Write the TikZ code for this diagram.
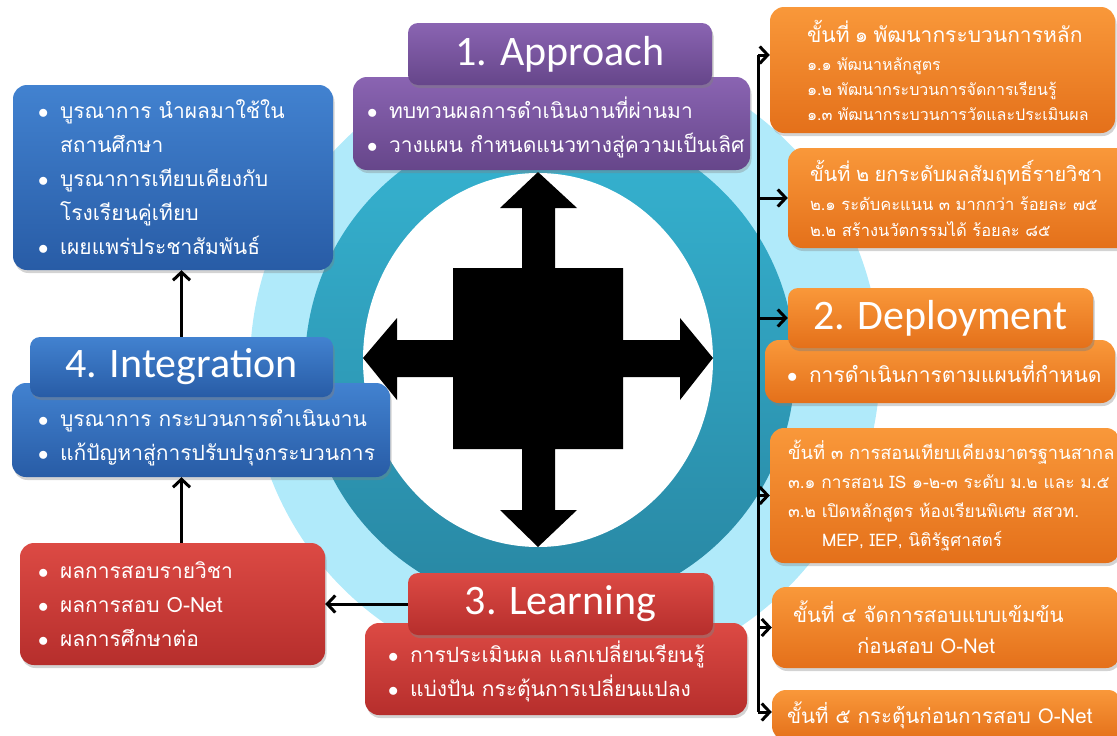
\documentclass[tikz,border=0pt]{standalone}
\usepackage{fontspec}
\setmainfont{Loma}[Script=Thai]
\newfontfamily\titlefont{Carlito}
\usepackage{tikz}
\usetikzlibrary{arrows.meta,positioning,shadows}
\definecolor{lblue}{RGB}{176,234,250}
\definecolor{tealtop}{RGB}{54,180,210}
\definecolor{tealbot}{RGB}{40,134,162}
\definecolor{pptop}{RGB}{138,100,178}
\definecolor{ppbot}{RGB}{102,70,138}
\definecolor{bltop}{RGB}{66,130,208}
\definecolor{blbot}{RGB}{40,92,166}
\definecolor{rdtop}{RGB}{220,74,68}
\definecolor{rdbot}{RGB}{182,46,44}
\definecolor{ogtop}{RGB}{249,152,58}
\definecolor{ogbot}{RGB}{228,112,26}
\newcommand{\bul}{\makebox[22pt][l]{$\bullet$}}
\newcommand{\nob}{\hspace*{22pt}}
\tikzstyle{bx} = [rectangle, rounded corners=14pt, text=white, align=left, inner ysep=0pt, execute at begin node={\rightskip=-300pt plus 1fil}, drop shadow={opacity=0.35,shadow xshift=1.5pt,shadow yshift=-3pt}]
\tikzstyle{ttl} = [rectangle, rounded corners=10pt, text=white, inner sep=0pt, font=\titlefont\fontsize{42}{42}\selectfont, drop shadow={opacity=0.45,shadow xshift=1.5pt,shadow yshift=-3pt}]
\tikzstyle{pp} = [top color=pptop, bottom color=ppbot]
\tikzstyle{bl} = [top color=bltop, bottom color=blbot]
\tikzstyle{rd} = [top color=rdtop, bottom color=rdbot]
\tikzstyle{og} = [top color=ogtop, bottom color=ogbot]
\tikzstyle{bt} = [font=\fontsize{21}{34}\selectfont]
\tikzstyle{arr} = [-{Straight Barb[length=8pt,width=17pt]}, line width=3pt]
\begin{document}
\begin{tikzpicture}[x=1pt,y=-1pt]
\useasboundingbox (0,0) rectangle (1117,736);
\fill[lblue] (565,365) circle [radius=315];
\path[top color=tealtop, bottom color=tealbot] (550,365) circle [radius=245];
\fill[white] (538,360) ellipse [x radius=175, y radius=187];
\fill[black] (538,172) -- (577,208) -- (555,208) -- (555,268) -- (623,268) -- (623,340) -- (680,340) -- (680,318)
  -- (713,358) -- (680,400) -- (680,377) -- (623,377) -- (623,449) -- (555,449) -- (555,510) -- (577,510)
  -- (538,547) -- (500,510) -- (522,510) -- (522,449) -- (453,449) -- (453,377) -- (397,377) -- (397,400)
  -- (363,358) -- (397,318) -- (397,340) -- (453,340) -- (453,268) -- (522,268) -- (522,208) -- (500,208) -- cycle;

\node[bx, pp, bt, minimum height=93pt, text width=369pt, inner xsep=14pt] (appc) at (551.5,123.5)
  {\rule{0pt}{30pt}\bul ทบทวนผลการดำเนินงานที่ผ่านมา\\ \bul วางแผน กำหนดแนวทางสู่ความเป็นเลิศ};
\node[ttl, pp, minimum width=304pt, minimum height=62pt] (appt) at (560,54) {1. Approach};

\node[bx, bl, bt, minimum height=185pt, text width=270pt, inner xsep=25pt] (intb) at (173,177.5)
  {\bul บูรณาการ นำผลมาใช้ใน\\ \nob สถานศึกษา\\ \bul บูรณาการเทียบเคียงกับ\\ \nob โรงเรียนคู่เทียบ\\ \bul เผยแพร่ประชาสัมพันธ์};
\node[bx, bl, bt, minimum height=94pt, text width=326pt, inner xsep=26pt] (intc) at (201,430)
  {\rule{0pt}{33pt}\bul บูรณาการ กระบวนการดำเนินงาน\\ \bul แก้ปัญหาสู่การปรับปรุงกระบวนการ};
\node[ttl, bl, minimum width=303pt, minimum height=60pt] (intt) at (181.5,367) {4. Integration};

\node[bx, rd, bt, minimum height=122pt, text width=269pt, inner xsep=18pt] (res) at (172.5,604)
  {\bul ผลการสอบรายวิชา\\ \bul ผลการสอบ O-Net\\ \bul ผลการศึกษาต่อ};
\node[bx, rd, bt, minimum height=92pt, text width=336pt, inner xsep=23pt] (lrnc) at (556,669)
  {\rule{0pt}{27pt}\bul การประเมินผล แลกเปลี่ยนเรียนรู้\\ \bul แบ่งปัน กระตุ้นการเปลี่ยนแปลง};
\node[ttl, rd, minimum width=305pt, minimum height=62pt] (lrnt) at (560.5,604) {3. Learning};

\node[bx, og, bt, minimum height=63pt, text width=306pt, inner xsep=22pt] (depc) at (940,371.5)
  {\bul การดำเนินการตามแผนที่กำหนด};
\node[ttl, og, minimum width=305pt, minimum height=60pt] (dept) at (940.5,318) {2. Deployment};

\node[bx, og, font=\fontsize{16}{25}\selectfont, minimum height=126pt, text width=271pt, inner xsep=37pt] (s1) at (942.5,70)
  {{\fontsize{21}{25}\selectfont ขั้นที่ ๑ พัฒนากระบวนการหลัก}\\[3pt] ๑.๑ พัฒนาหลักสูตร\\ ๑.๒ พัฒนากระบวนการจัดการเรียนรู้\\ ๑.๓ พัฒนากระบวนการวัดและประเมินผล};
\node[bx, og, font=\fontsize{16.5}{26}\selectfont, minimum height=100pt, text width=302pt, inner xsep=22pt] (s2) at (961,198)
  {{\fontsize{20}{26}\selectfont ขั้นที่ ๒ ยกระดับผลสัมฤทธิ์รายวิชา}\\[3pt] ๒.๑ ระดับคะแนน ๓ มากกว่า ร้อยละ ๗๕\\ ๒.๒ สร้างนวัตกรรมได้ ร้อยละ ๘๕};
\node[bx, og, font=\fontsize{17.3}{29}\selectfont, minimum height=135pt, text width=314pt, inner xsep=18pt] (s3) at (945,495.5)
  {{\fontsize{18.3}{29}\selectfont ขั้นที่ ๓ การสอนเทียบเคียงมาตรฐานสากล}\\ ๓.๑ การสอน IS ๑-๒-๓ ระดับ ม.๒ และ ม.๕\\ ๓.๒ เปิดหลักสูตร ห้องเรียนพิเศษ สสวท.\\ \hspace*{34pt}MEP, IEP, นิติรัฐศาสตร์};
\node[bx, og, font=\fontsize{20.5}{31}\selectfont, minimum height=81pt, text width=306pt, inner xsep=21pt] (s4) at (946,627.5)
  {ขั้นที่ ๔ จัดการสอบแบบเข้มข้น\\ \hspace*{64pt}ก่อนสอบ O-Net};
\node[bx, og, font=\fontsize{20.5}{31}\selectfont, minimum height=50pt, text width=320pt, inner xsep=15pt] (s5) at (947,715)
  {ขั้นที่ ๕ กระตุ้นก่อนการสอบ O-Net};

\coordinate (bustop) at (758,55);
\coordinate (busbot) at (758,712);
\draw[line width=3pt] (bustop) -- (busbot);
\draw[arr] (bustop) -- (bustop -| s1.west);
\draw[arr] (s2.west -| bustop) -- (s2.west);
\draw[arr] (dept.west -| bustop) -- (dept.west);
\draw[arr] (s3.west -| bustop) -- (s3.west);
\draw[arr] (s4.west -| bustop) -- (s4.west);
\draw[arr] (busbot) -- (busbot -| s5.west);
\draw[arr] (intt.north) -- (intt.north |- intb.south);
\draw[arr] (intt.south |- res.north) -- (intt.south |- intc.south);
\draw[arr] (lrnt.west) -- (res.east);
\end{tikzpicture}
\end{document}
